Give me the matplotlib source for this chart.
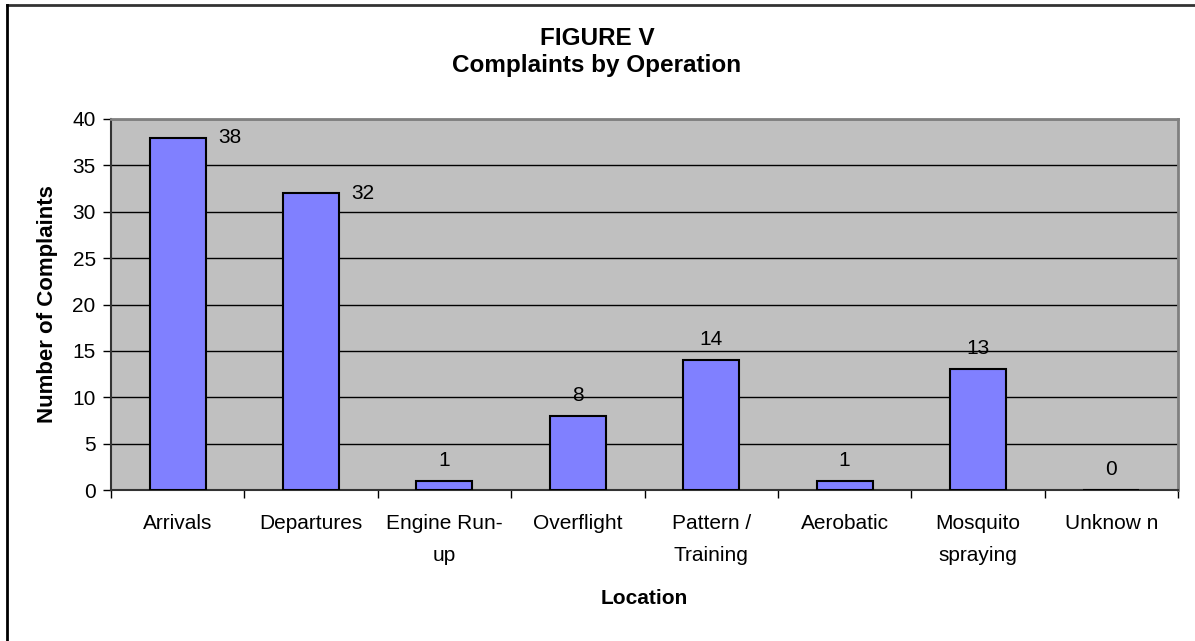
import matplotlib.pyplot as plt
from matplotlib.lines import Line2D

plt.rcParams['font.family'] = ['Liberation Sans', 'DejaVu Sans']

# Complaint counts by type of operation
operations = ['Arrivals', 'Departures', 'Engine Run-\nup', 'Overflight',
              'Pattern /\nTraining', 'Aerobatic', 'Mosquito\nspraying', 'Unknow n']
complaints = [38, 32, 1, 8, 14, 1, 13, 0]
y_ticks = [0, 5, 10, 15, 20, 25, 30, 35, 40]

fig = plt.figure(figsize=(11.95, 6.41), dpi=100)
ax = fig.add_axes([111 / 1195, 1 - 490 / 641, 1067 / 1195, 371 / 641])
ax.set_facecolor('#C0C0C0')

x = list(range(len(operations)))
ax.bar(x, complaints, width=0.42, color='#8080FF', edgecolor='black',
       linewidth=1.5, zorder=3)

# value labels: the two tall bars get theirs beside the top, the rest above
for i, v in enumerate(complaints):
    if i < 2:
        ax.annotate(str(v), (i + 0.21, v), xytext=(9, 0), textcoords='offset points',
                    ha='left', va='center', fontsize=15)
    else:
        ax.annotate(str(v), (i, v), xytext=(0, 8), textcoords='offset points',
                    ha='center', va='bottom', fontsize=15)

ax.set_xlim(-0.5, len(operations) - 0.5)
ax.set_ylim(0, 40)
ax.set_yticks(y_ticks)
ax.tick_params(axis='y', labelsize=15, length=6, width=1, direction='out', pad=5)
ax.yaxis.grid(True, color='black', linewidth=1, zorder=1)
ax.set_axisbelow(True)

# category labels sit between boundary ticks
ax.set_xticks([i - 0.5 for i in range(len(operations) + 1)])
ax.set_xticklabels([])
ax.set_xticks(x, minor=True)
ax.set_xticklabels(operations, minor=True, fontsize=15, linespacing=1.9, va='top')
ax.tick_params(axis='x', which='major', length=6, width=1, direction='out')
ax.tick_params(axis='x', which='minor', length=0, pad=17)

for side in ['top', 'right']:
    ax.spines[side].set_color('#808080')
    ax.spines[side].set_linewidth(2)
for side in ['left', 'bottom']:
    ax.spines[side].set_color('#333333')
    ax.spines[side].set_linewidth(1.5)

ax.set_ylabel('Number of Complaints', fontsize=16, fontweight='bold')
ax.yaxis.set_label_coords((48 - 111) / 1067, (490 - 304) / 371)
ax.set_xlabel('Location', fontsize=15, fontweight='bold')
ax.xaxis.set_label_coords(0.5, (490 - 599) / 371)
ax.xaxis.label.set_va('center')
ax.yaxis.label.set_va('center')

fig.text(597 / 1195, 1 - 52 / 641, 'FIGURE V\nComplaints by Operation',
         ha='center', va='center', fontsize=17.5, fontweight='bold', linespacing=1.25)

# outer chart border (top and left edges)
fig.add_artist(Line2D([7 / 1195, 1], [1 - 5 / 641, 1 - 5 / 641],
                      color='#333333', linewidth=2, transform=fig.transFigure))
fig.add_artist(Line2D([7 / 1195, 7 / 1195], [0, 1 - 5 / 641],
                      color='black', linewidth=2, transform=fig.transFigure))

fig.savefig('out.png', dpi=100, facecolor='white')
